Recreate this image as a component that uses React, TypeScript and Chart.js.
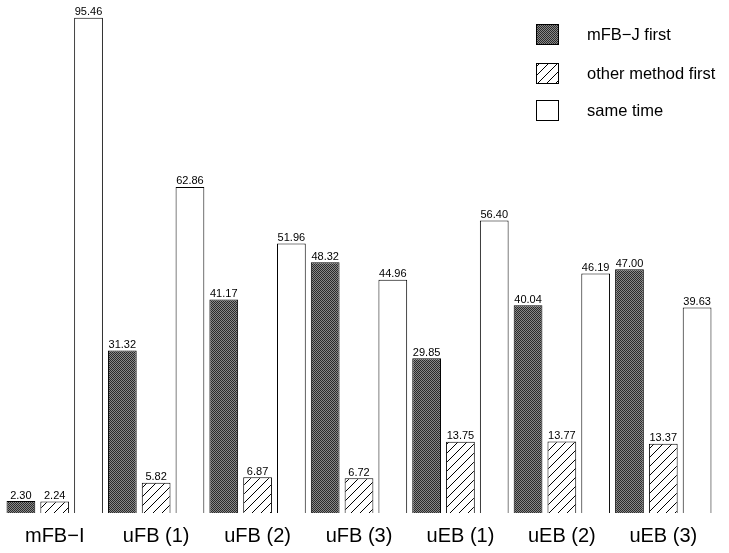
import React, { useEffect, useRef } from "react";
import { Chart, registerables } from "chart.js";

Chart.register(...registerables);

const categories = ["mFB−I", "uFB (1)", "uFB (2)", "uFB (3)", "uEB (1)", "uEB (2)", "uEB (3)"];
const seriesNames = ["mFB−J first", "other method first", "same time"];
const mfbjFirst = [2.3, 31.32, 41.17, 48.32, 29.85, 40.04, 47.0];
const otherFirst = [2.24, 5.82, 6.87, 6.72, 13.75, 13.77, 13.37];
const sameTime = [95.46, 62.86, 51.96, 44.96, 56.4, 46.19, 39.63];

const FONT = "'Liberation Sans', Arial, Helvetica, sans-serif";

function makeDarkPattern(ctx: CanvasRenderingContext2D) {
  const t = document.createElement("canvas");
  t.width = 2;
  t.height = 2;
  const c = t.getContext("2d")!;
  c.fillStyle = "#888888";
  c.fillRect(0, 0, 2, 2);
  c.fillStyle = "#2a2a2a";
  c.fillRect(0, 0, 1, 1);
  c.fillRect(1, 1, 1, 1);
  return ctx.createPattern(t, "repeat")!;
}

function makeHatchPattern(ctx: CanvasRenderingContext2D) {
  const s = 9;
  const t = document.createElement("canvas");
  t.width = s;
  t.height = s;
  const c = t.getContext("2d")!;
  c.fillStyle = "#ffffff";
  c.fillRect(0, 0, s, s);
  c.strokeStyle = "#000000";
  c.lineWidth = 1;
  c.beginPath();
  c.moveTo(-1, s + 1);
  c.lineTo(s + 1, -1);
  c.moveTo(-2, 2);
  c.lineTo(2, -2);
  c.moveTo(s - 2, s + 2);
  c.lineTo(s + 2, s - 2);
  c.stroke();
  return ctx.createPattern(t, "repeat")!;
}

export default function App() {
  const ref = useRef<HTMLCanvasElement | null>(null);

  useEffect(() => {
    const canvas = ref.current!;
    const ctx = canvas.getContext("2d")!;
    const dark = makeDarkPattern(ctx);
    const hatch = makeHatchPattern(ctx);
    const fills: (CanvasPattern | string)[] = [dark, hatch, "#ffffff"];
    const seriesData = [mfbjFirst, otherFirst, sameTime];

    const valueLabels = {
      id: "valueLabels",
      afterDatasetsDraw(chart: any) {
        const c = chart.ctx as CanvasRenderingContext2D;
        c.save();
        c.fillStyle = "#000";
        c.font = `10.5px ${FONT}`;
        c.textAlign = "center";
        c.textBaseline = "alphabetic";
        chart.data.datasets.forEach((ds: any, di: number) => {
          const meta = chart.getDatasetMeta(di);
          meta.data.forEach((el: any, i: number) => {
            const v = ds.data[i] as number;
            c.save();
            c.translate(el.x, el.y - 2.5);
            c.scale(1.05, 1);
            c.fillText(v.toFixed(2), 0, 0);
            c.restore();
          });
        });
        c.restore();
      },
    };

    const customLegend = {
      id: "customLegend",
      afterDraw(chart: any) {
        const c = chart.ctx as CanvasRenderingContext2D;
        c.save();
        const bx = 536;
        const ys = [24, 63, 100];
        seriesNames.forEach((name, i) => {
          const y = ys[i];
          c.fillStyle = fills[i] as any;
          c.fillRect(bx, y, 23, 21);
          c.strokeStyle = "#000";
          c.lineWidth = 1;
          c.strokeRect(bx + 0.5, y + 0.5, 22, 20);
          c.fillStyle = "#000";
          c.font = `16.5px ${FONT}`;
          c.textAlign = "left";
          c.textBaseline = "middle";
          c.fillText(name, 587, y + 11.5);
        });
        c.restore();
      },
    };

    const chart = new Chart(canvas, {
      type: "bar",
      data: {
        labels: categories,
        datasets: seriesNames.map((name, i) => ({
          label: name,
          data: seriesData[i],
          backgroundColor: fills[i] as any,
          borderColor: "#000000",
          borderWidth: 1,
          barPercentage: 0.85,
          categoryPercentage: 1.0,
        })),
      },
      options: {
        animation: false,
        responsive: false,
        maintainAspectRatio: false,
        layout: { padding: { left: 4, right: 15, top: 15, bottom: -6 } },
        plugins: {
          legend: { display: false },
          tooltip: { enabled: false },
        },
        scales: {
          x: {
            grid: { display: false, drawTicks: false, tickLength: 0 },
            border: { display: false },
            ticks: {
              color: "#000",
              padding: 11,
              font: { family: FONT, size: 20, lineHeight: 1.2 },
            },
          },
          y: {
            display: false,
            min: 0,
            max: 96,
          },
        },
      },
      plugins: [valueLabels, customLegend],
    });
    return () => chart.destroy();
  }, []);

  return (
    <div style={{ position: "absolute", left: 0, top: 0, width: 729, height: 553, background: "#fff" }}>
      <canvas ref={ref} width={729} height={553} style={{ display: "block", width: 729, height: 553 }} />
    </div>
  );
}
